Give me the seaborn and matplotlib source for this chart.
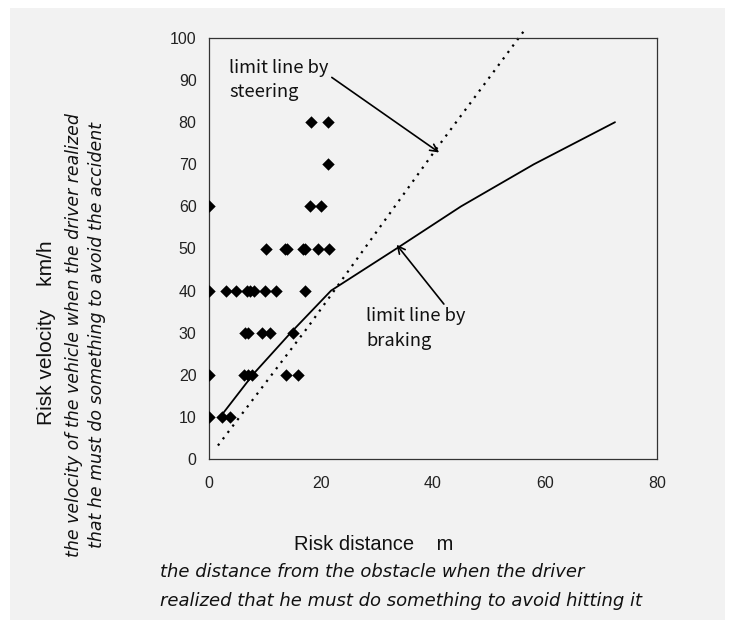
import matplotlib
matplotlib.use("Agg")
import matplotlib.pyplot as plt
from matplotlib.patches import Rectangle
import seaborn as sns
import pandas as pd

# ---- data ----
dist_80 = [18.3, 21.3]
dist_70 = [21.3]
dist_60 = [0.0, 18.0, 20.0]
dist_50 = [10.1, 13.6, 13.9, 16.8, 17.1, 19.5, 21.5]
dist_40 = [0.0, 3.0, 4.9, 6.8, 7.3, 8.0, 10.0, 11.9, 17.2]
dist_30 = [6.4, 7.0, 9.5, 10.9, 15.0]
dist_20 = [0.0, 6.2, 6.9, 7.6, 13.7, 15.9]
dist_10 = [0.0, 2.3, 3.8]

braking_x = [2.3, 8.0, 14.6, 21.8, 33.5, 45.0, 58.0, 72.5]
braking_y = [10.5, 20.3, 30.0, 40.0, 50.0, 60.0, 70.0, 80.0]

steering_x = [1.6, 17.7, 40.5, 56.2]
steering_y = [3.2, 31.4, 73.5, 101.6]

x_ticks = [0, 20, 40, 60, 80]
y_ticks = [0, 10, 20, 30, 40, 50, 60, 70, 80, 90, 100]

rows = {80: dist_80, 70: dist_70, 60: dist_60, 50: dist_50,
        40: dist_40, 30: dist_30, 20: dist_20, 10: dist_10}
pts = pd.DataFrame([(d, v) for v, ds in rows.items() for d in ds],
                   columns=["distance", "velocity"])
brk = pd.DataFrame({"distance": braking_x, "velocity": braking_y})
stl = pd.DataFrame({"distance": steering_x, "velocity": steering_y})

sns.set_theme(style="white")
plt.rcParams['font.family'] = ['Liberation Sans', 'DejaVu Sans']

W, H = 733, 628
fig = plt.figure(figsize=(W / 100, H / 100), dpi=100, facecolor="white")
fig.patches.append(Rectangle((10 / W, 1 - 620 / H), 715 / W, 612 / H,
                             transform=fig.transFigure, facecolor="#f2f2f2",
                             edgecolor="none", zorder=-10))

left, right, top, bottom = 209, 657, 38, 459
ax = fig.add_axes([left / W, 1 - bottom / H, (right - left) / W, (bottom - top) / H])
ax.set_zorder(5)
ax.set_facecolor("#f2f2f2")

sns.scatterplot(data=pts, x="distance", y="velocity", marker="D", s=40,
                color="black", linewidth=0, ax=ax, zorder=3)
sns.lineplot(data=brk, x="distance", y="velocity", sort=False, estimator=None,
             color="black", linewidth=1.3, ax=ax)
sns.lineplot(data=stl, x="distance", y="velocity", sort=False, estimator=None,
             color="black", linewidth=1.6, linestyle=(0, (1, 2.6)), ax=ax)
for ln in ax.get_lines():
    ln.set_clip_on(False)

ax.set_xlim(0, 80)
ax.set_ylim(0, 100)
ax.set_xticks(x_ticks)
ax.set_yticks(y_ticks)
ax.set_xlabel("")
ax.set_ylabel("")
for sp in ax.spines.values():
    sp.set_visible(True)
    sp.set_color("#333333")
    sp.set_linewidth(0.9)
ax.tick_params(axis="both", direction="in", length=4, width=0.8,
               colors="#222222", labelsize=11.5)
ax.tick_params(axis="x", pad=12)
ax.tick_params(axis="y", pad=9)

ann_font = ['Noto Sans CJK JP', 'DejaVu Sans']
ax.annotate("limit line by\nsteering", xy=(41.1, 72.8), xytext=(3.6, 95.0),
            ha="left", va="top", fontsize=13.2, family=ann_font, color="#111111",
            linespacing=1.45,
            arrowprops=dict(arrowstyle="->", color="black", lw=1.2,
                            shrinkA=0, shrinkB=0, relpos=(1.0, 0.62)))
ax.annotate("limit line by\nbraking", xy=(33.5, 50.9), xytext=(28.1, 36.0),
            ha="left", va="top", fontsize=13.2, family=ann_font, color="#111111",
            linespacing=1.45,
            arrowprops=dict(arrowstyle="->", color="black", lw=1.2,
                            shrinkA=0, shrinkB=0, relpos=(0.78, 1.08)))

# axis captions
fig.text(374 / W, 1 - 544 / H, "Risk distance    m", ha="center", va="center",
         fontsize=14.5, color="#111111")
fig.text(160 / W, 1 - 572 / H, "the distance from the obstacle when the driver",
         ha="left", va="center", fontsize=13, style="italic",
         family=['DejaVu Sans'], color="#111111")
fig.text(160 / W, 1 - 601 / H, "realized that he must do something to avoid hitting it",
         ha="left", va="center", fontsize=13, style="italic",
         family=['DejaVu Sans'], color="#111111")

fig.text(47 / W, 1 - 333 / H, "Risk velocity    km/h", ha="center", va="center",
         rotation=90, fontsize=15, color="#111111")
fig.text(74 / W, 1 - 335 / H, "the velocity of the vehicle when the driver realized",
         ha="center", va="center", rotation=90, fontsize=12.5, style="italic",
         family=['DejaVu Sans'], color="#111111")
fig.text(97 / W, 1 - 335 / H, "that he must do something to avoid the accident",
         ha="center", va="center", rotation=90, fontsize=12.5, style="italic",
         family=['DejaVu Sans'], color="#111111")

fig.savefig("out.png", dpi=100, facecolor="white")
